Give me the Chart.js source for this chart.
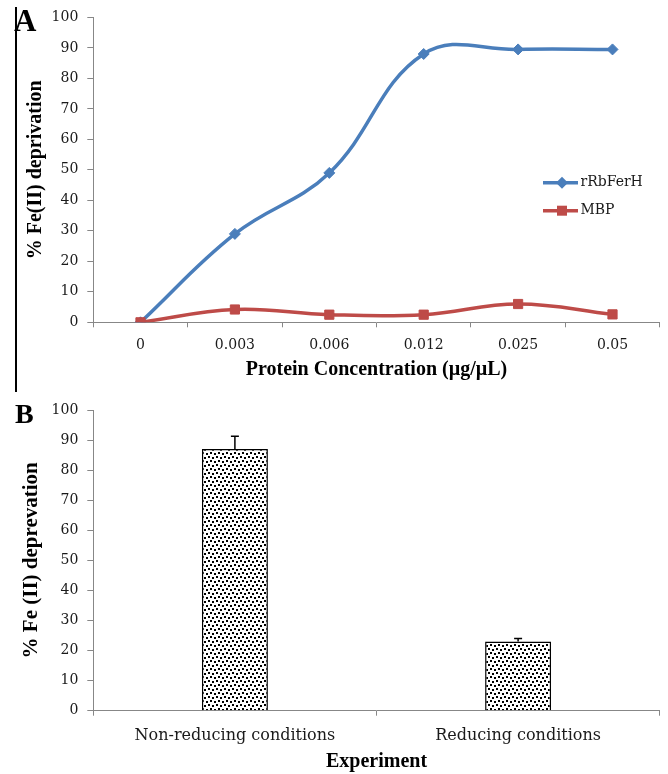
<!DOCTYPE html>
<html>
<head>
<meta charset="utf-8">
<script src="https://cdn.jsdelivr.net/npm/chart.js@4.4.0/dist/chart.umd.min.js"></script>
<style>
  html, body { margin: 0; padding: 0; background: #fff; }
  #wrapA { position: absolute; left: 0; top: 0; width: 668px; height: 392px; }
  #wrapB { position: absolute; left: 0; top: 392px; width: 668px; height: 382px; }
</style>
</head>
<body>
<div id="wrapA"><canvas id="chartA"></canvas></div>
<div id="wrapB"><canvas id="chartB"></canvas></div>
<script>
// Panel A: Fe(II) deprivation vs protein concentration
const concLabels = ["0", "0.003", "0.006", "0.012", "0.025", "0.05"];
const rRbFerH = [0, 29, 49, 88, 89.5, 89.5];
const mbp = [0, 4.2, 2.5, 2.5, 6, 2.6];

// Panel B: reducing vs non-reducing
const conditions = ["Non-reducing conditions", "Reducing conditions"];
const deprevation = [87, 23];
const deprevationErr = [4.3, 1];

const BLUE = "#4A7EBB";
const RED = "#BE4B48";
const AXIS = "#878787";
const TEXT = "#1a1a1a";
const SERIF = "'DejaVu Serif', serif";
const TITLE_SERIF = "'Liberation Serif', 'Times New Roman', serif";

Chart.defaults.font.family = SERIF;
Chart.defaults.color = TEXT;

// dotted fill used by the bars
function dotPattern() {
  const c = document.createElement("canvas");
  c.width = 8;
  c.height = 8;
  const g = c.getContext("2d");
  g.fillStyle = "#fff";
  g.fillRect(0, 0, 8, 8);
  g.fillStyle = "#000";
  [[0, 0], [4, 1], [2, 4], [6, 5]].forEach(([x, y]) => g.fillRect(x, y, 2, 2));
  return g.createPattern(c, "repeat");
}

// panel letter (and the thin rule next to A)
function panelTag(letter, size, x, y, rule) {
  return {
    id: "panelTag" + letter,
    afterDraw(chart) {
      const ctx = chart.ctx;
      ctx.save();
      if (rule) {
        ctx.strokeStyle = "#000";
        ctx.lineWidth = 2;
        ctx.beginPath();
        ctx.moveTo(16, 7);
        ctx.lineTo(16, chart.height);
        ctx.stroke();
      }
      ctx.fillStyle = "#000";
      ctx.font = "bold " + size + "px " + TITLE_SERIF;
      ctx.textBaseline = "alphabetic";
      ctx.fillText(letter, x, y);
      ctx.restore();
    }
  };
}

// legend drawn inside the plot, like the original
const insideLegend = {
  id: "insideLegend",
  afterDraw(chart) {
    const ctx = chart.ctx;
    const rows = [
      { text: "rRbFerH", color: BLUE, style: "diamond", y: 182.7 },
      { text: "MBP", color: RED, style: "square", y: 210.7 }
    ];
    ctx.save();
    rows.forEach(r => {
      ctx.strokeStyle = r.color;
      ctx.fillStyle = r.color;
      ctx.lineWidth = 3.5;
      ctx.beginPath();
      ctx.moveTo(543, r.y);
      ctx.lineTo(578, r.y);
      ctx.stroke();
      ctx.beginPath();
      if (r.style === "diamond") {
        ctx.moveTo(562 - 6, r.y);
        ctx.lineTo(562, r.y - 6);
        ctx.lineTo(562 + 6, r.y);
        ctx.lineTo(562, r.y + 6);
        ctx.closePath();
      } else {
        ctx.rect(562 - 5, r.y - 5, 10, 10);
      }
      ctx.fill();
      ctx.fillStyle = TEXT;
      ctx.font = "14px " + SERIF;
      ctx.textBaseline = "middle";
      ctx.fillText(r.text, 580.5, r.y);
    });
    ctx.restore();
  }
};

const errorBars = {
  id: "errorBars",
  afterDatasetsDraw(chart) {
    const ctx = chart.ctx;
    const meta = chart.getDatasetMeta(0);
    const y = chart.scales.y;
    ctx.save();
    ctx.strokeStyle = "#000";
    ctx.lineWidth = 1.5;
    meta.data.forEach((bar, i) => {
      const top = y.getPixelForValue(deprevation[i] + deprevationErr[i]);
      ctx.beginPath();
      ctx.moveTo(bar.x, bar.y);
      ctx.lineTo(bar.x, top);
      ctx.moveTo(bar.x - 4, top);
      ctx.lineTo(bar.x + 4, top);
      ctx.stroke();
    });
    ctx.restore();
  }
};

function yScale(title, titlePad, titleSize) {
  return {
    min: 0,
    max: 100,
    ticks: { stepSize: 10, padding: 9, font: { size: 14 }, color: TEXT },
    grid: { drawOnChartArea: false, tickLength: 6, color: AXIS },
    border: { color: AXIS },
    title: {
      display: true,
      text: title,
      font: { family: TITLE_SERIF, size: titleSize, weight: "bold" },
      color: "#000",
      padding: { top: titlePad, bottom: 0 }
    },
    afterFit: s => { s.width = 93.3; }
  };
}

function xScale(title, tickPad, tickSize, height, titleBottom) {
  return {
    offset: true,
    grid: { offset: true, drawOnChartArea: false, tickLength: 5, color: AXIS },
    border: { color: AXIS },
    ticks: { padding: tickPad, font: { size: tickSize }, color: TEXT },
    title: {
      display: true,
      text: title,
      font: { family: TITLE_SERIF, size: 20, weight: "bold" },
      color: "#000",
      padding: { top: 4, bottom: titleBottom }
    },
    afterFit: s => { s.height = height; }
  };
}

new Chart(document.getElementById("chartA"), {
  type: "line",
  data: {
    labels: concLabels,
    datasets: [
      {
        label: "rRbFerH",
        data: rRbFerH,
        borderColor: BLUE,
        backgroundColor: BLUE,
        borderWidth: 3.5,
        pointStyle: "rectRot",
        pointRadius: 5.5,
        pointBorderWidth: 1,
        tension: 0.4,
        order: 1
      },
      {
        label: "MBP",
        data: mbp,
        borderColor: RED,
        backgroundColor: RED,
        borderWidth: 3.5,
        pointStyle: "rect",
        pointRadius: 6.5,
        pointBorderWidth: 1,
        tension: 0.4,
        order: 0
      }
    ]
  },
  options: {
    responsive: true,
    maintainAspectRatio: false,
    animation: false,
    layout: { padding: { top: 17, right: 8.3, bottom: 6, left: 0 } },
    plugins: { legend: { display: false }, tooltip: { enabled: false } },
    scales: {
      x: xScale("Protein Concentration (µg/µL)", 10, 14, 63.7, 4),
      y: yScale("% Fe(II) deprivation", 24, 20)
    }
  },
  plugins: [insideLegend, panelTag("A", 31, 14, 31, true)]
});

new Chart(document.getElementById("chartB"), {
  type: "bar",
  data: {
    labels: conditions,
    datasets: [
      {
        label: "% Fe (II) deprevation",
        data: deprevation,
        backgroundColor: dotPattern(),
        borderColor: "#000",
        borderWidth: 1.5,
        categoryPercentage: 1,
        barPercentage: 0.233
      }
    ]
  },
  options: {
    responsive: true,
    maintainAspectRatio: false,
    animation: false,
    layout: { padding: { top: 18, right: 8.3, bottom: 0, left: 0 } },
    plugins: { legend: { display: false }, tooltip: { enabled: false } },
    scales: {
      x: xScale("Experiment", 11, 16, 63.3, 0),
      y: yScale("% Fe (II) deprevation", 19, 21)
    }
  },
  plugins: [errorBars, panelTag("B", 28, 15, 31, false)]
});
</script>
</body>
</html>
